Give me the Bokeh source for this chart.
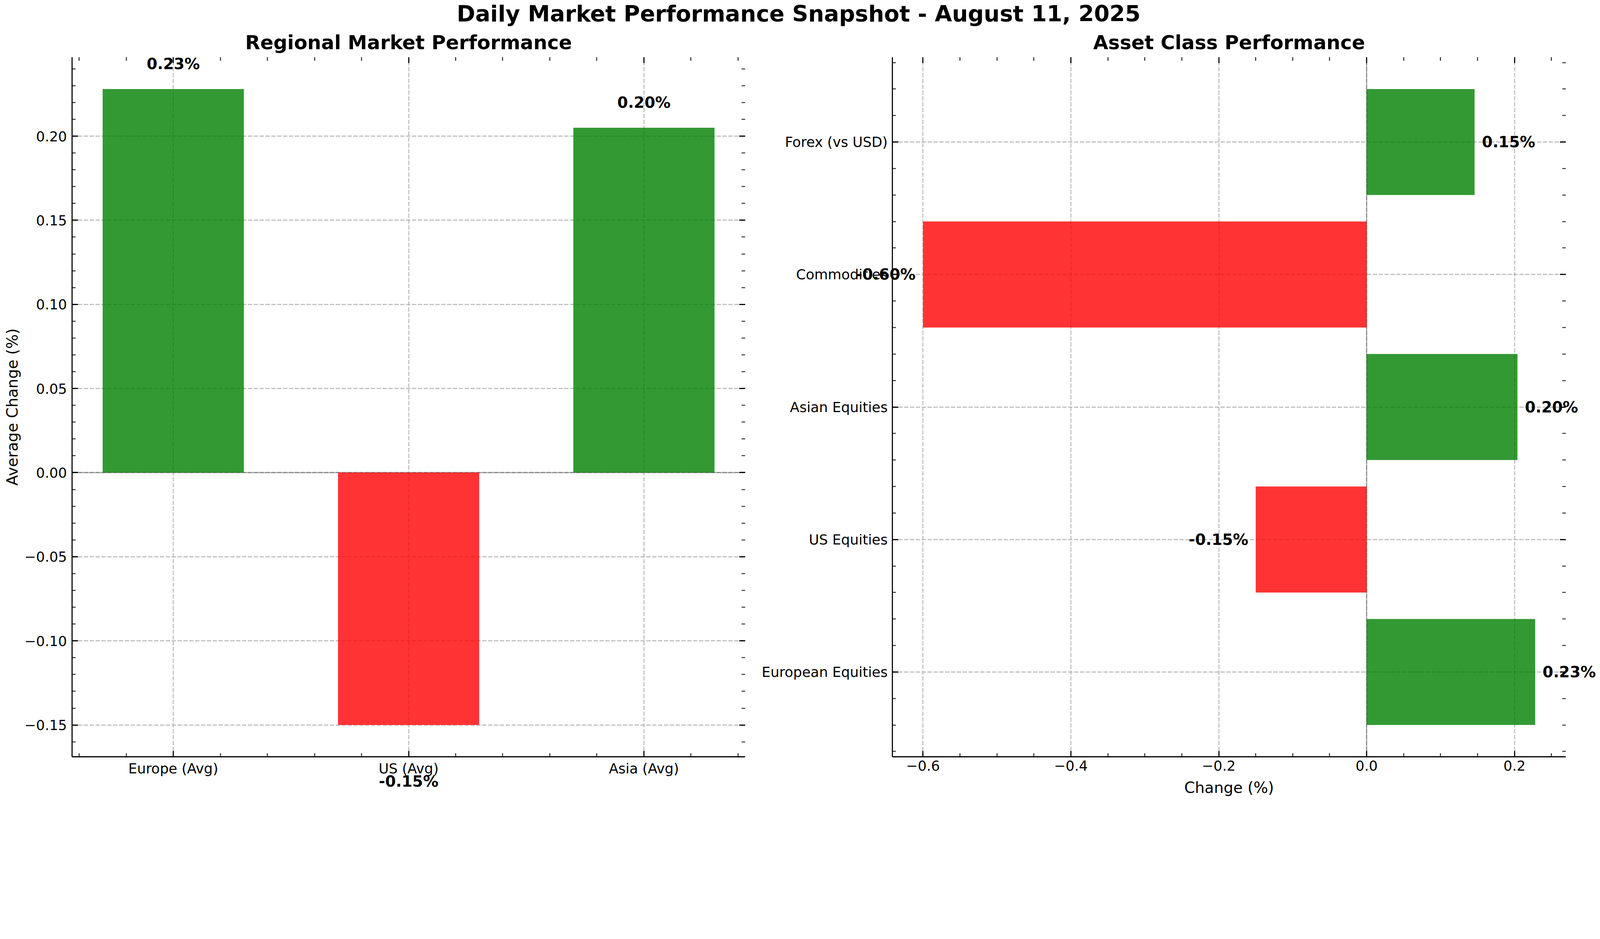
import numpy as np
from bokeh.plotting import figure
from bokeh.models import (Range1d, FixedTicker, LinearAxis, Label, Span,
                          ColumnDataSource, CustomJSTickFormatter)
from bokeh.core.properties import value
from bokeh.layouts import column, row
from bokeh.embed import file_html
from bokeh.resources import INLINE

# ---------------- data ----------------
suptitle = "Daily Market Performance Snapshot - August 11, 2025"
left_title = "Regional Market Performance"
right_title = "Asset Class Performance"

regions = ["Europe (Avg)", "US (Avg)", "Asia (Avg)"]
region_change = [0.228, -0.150, 0.205]

assets = ["European Equities", "US Equities", "Asian Equities",
          "Commodities", "Forex (vs USD)"]
asset_change = [0.228, -0.150, 0.204, -0.600, 0.146]

left_yticks = [-0.15, -0.10, -0.05, 0.00, 0.05, 0.10, 0.15, 0.20]
right_xticks = [-0.6, -0.4, -0.2, 0.0, 0.2]

left_ylabel = "Average Change (%)"
right_xlabel = "Change (%)"

# ---------------- style ----------------
FONT = "DejaVu Sans"
TICK_FS = "35.6px"
LABEL_FS = "39.1px"
VAL_FS = "39.3px"
SUB_FS = "49.8px"
GRID_COLOR = "#b0b0b0"
LW = 2.8


def bar_color(v):
    return "green" if v >= 0 else "red"


blank_fmt = CustomJSTickFormatter(code="return '';")


def style_axis(ax, line=True, labels=True, standoff=9):
    ax.major_tick_in = 15
    ax.major_tick_out = 0
    ax.minor_tick_in = 9
    ax.minor_tick_out = 0
    ax.major_tick_line_width = LW
    ax.minor_tick_line_width = 2.1
    ax.major_tick_line_color = "black"
    ax.minor_tick_line_color = "black"
    ax.axis_line_width = LW
    ax.axis_line_color = "black" if line else None
    ax.major_label_text_font = FONT
    if labels:
        ax.major_label_text_color = "black"
        ax.major_label_text_font_size = TICK_FS
        ax.major_label_standoff = standoff
    else:
        ax.formatter = blank_fmt
        ax.major_label_text_color = None
        ax.major_label_text_font_size = "1px"
        ax.major_label_standoff = 0


def style_grid(p):
    for g in (p.xgrid, p.ygrid):
        g.grid_line_color = GRID_COLOR
        g.grid_line_alpha = 0.8
        g.grid_line_width = LW
        g.grid_line_dash = "11 4"


def padded(lo, hi, frac=0.05):
    pad = (hi - lo) * frac
    return lo - pad, hi + pad


def subtitle(p, text, x0, x1, y1):
    p.text(x=[(x0 + x1) / 2], y=[y1], text=[text], y_offset=-37.5,
           level="overlay", text_font=value(FONT), text_font_size=value(SUB_FS),
           text_font_style=value("bold"), text_color="black",
           text_align=value("center"), text_baseline=value("middle"))


minus_fmt2 = CustomJSTickFormatter(code="return tick.toFixed(2).replace('-', '\u2212');")
minus_fmt1 = CustomJSTickFormatter(code="return tick.toFixed(1).replace('-', '\u2212');")

HH = 72        # header height (main title)
TOP = 74       # space above frames (holds the subtitles)
BOTTOM = 100
FH = 1791

# ---------------- left: regional ----------------
rx = list(range(len(regions)))
bar_w = 0.6
lx0, lx1 = padded(min(rx) - bar_w / 2, max(rx) + bar_w / 2)
ly0, ly1 = padded(min(0, min(region_change)), max(0, max(region_change)))

L1, F1, R1 = 184, 1723, 6
p1 = figure(frame_width=F1, frame_height=FH,
            x_range=Range1d(lx0, lx1), y_range=Range1d(ly0, ly1),
            output_backend="svg", toolbar_location=None, title=None,
            min_border_left=L1, min_border_right=R1,
            min_border_top=TOP, min_border_bottom=BOTTOM)
p1.outline_line_color = None
p1.background_fill_color = "white"
p1.border_fill_color = "white"

lxticker = FixedTicker(ticks=rx,
                       minor_ticks=[t for t in np.round(np.arange(-0.4, 2.41, 0.2), 2)
                                    if abs(t - round(t)) > 1e-6])
lyticker = FixedTicker(ticks=left_yticks,
                       minor_ticks=list(np.round(np.arange(-0.16, 0.2451, 0.01), 2)))

xa = p1.below[0]
xa.ticker = lxticker
xa.major_label_overrides = {i: r for i, r in enumerate(regions)}
style_axis(xa, standoff=9)
ya = p1.left[0]
ya.ticker = lyticker
ya.formatter = minus_fmt2
style_axis(ya, standoff=13)
ya.axis_label = left_ylabel
ya.axis_label_text_font = FONT
ya.axis_label_text_font_size = LABEL_FS
ya.axis_label_text_font_style = "normal"
ya.axis_label_text_color = "black"
ya.axis_label_standoff = 5

top1 = LinearAxis(ticker=lxticker)
style_axis(top1, line=False, labels=False)
p1.add_layout(top1, "above")
right1 = LinearAxis(ticker=lyticker)
style_axis(right1, line=False, labels=False)
p1.add_layout(right1, "right")

p1.xgrid.ticker = lxticker
p1.ygrid.ticker = lyticker
style_grid(p1)

p1.add_layout(Span(location=0, dimension="width", line_color="black",
                   line_alpha=0.3, line_width=LW, level="underlay"))

src1 = ColumnDataSource(dict(x=rx, top=region_change,
                             color=[bar_color(v) for v in region_change]))
p1.vbar(x="x", top="top", bottom=0, width=bar_w, source=src1,
        fill_color="color", fill_alpha=0.8, line_color=None)

lab1 = ColumnDataSource(dict(
    x=rx,
    y=[v + 0.015 if v >= 0 else v - 0.0335 for v in region_change],
    text=[f"{v:.2f}%" for v in region_change]))
p1.text(x="x", y="y", text="text", source=lab1, level="overlay",
        text_font=value(FONT), text_font_size=value(VAL_FS),
        text_font_style=value("bold"), text_color="black",
        text_align=value("center"), text_baseline=value("middle"))
subtitle(p1, left_title, lx0, lx1, ly1)

# ---------------- right: asset classes ----------------
ay = list(range(len(assets)))
bar_h = 0.8
rx0, rx1 = padded(min(0, min(asset_change)), max(0, max(asset_change)))
ry0, ry1 = padded(min(ay) - bar_h / 2, max(ay) + bar_h / 2)

L2, F2, R2 = 371, 1724, 79
p2 = figure(frame_width=F2, frame_height=FH,
            x_range=Range1d(rx0, rx1), y_range=Range1d(ry0, ry1),
            output_backend="svg", toolbar_location=None, title=None,
            min_border_left=L2, min_border_right=R2,
            min_border_top=TOP, min_border_bottom=BOTTOM)
p2.outline_line_color = None
p2.background_fill_color = "white"
p2.border_fill_color = "white"

rxticker = FixedTicker(ticks=right_xticks,
                       minor_ticks=[t for t in np.round(np.arange(-0.60, 0.2601, 0.05), 2)
                                    if min(abs(t - m) for m in right_xticks) > 1e-6])
ryticker = FixedTicker(ticks=ay,
                       minor_ticks=[t for t in np.round(np.arange(-0.6, 4.61, 0.2), 1)
                                    if abs(t - round(t)) > 1e-6])

xb = p2.below[0]
xb.ticker = rxticker
xb.formatter = minus_fmt1
style_axis(xb, standoff=9)
xb.axis_label = right_xlabel
xb.axis_label_text_font = FONT
xb.axis_label_text_font_size = LABEL_FS
xb.axis_label_text_font_style = "normal"
xb.axis_label_text_color = "black"
xb.axis_label_standoff = 18

yb = p2.left[0]
yb.ticker = ryticker
yb.major_label_overrides = {i: a for i, a in enumerate(assets)}
style_axis(yb, standoff=12)

top2 = LinearAxis(ticker=rxticker)
style_axis(top2, line=False, labels=False)
p2.add_layout(top2, "above")
right2 = LinearAxis(ticker=ryticker)
style_axis(right2, line=False, labels=False)
p2.add_layout(right2, "right")

p2.xgrid.ticker = rxticker
p2.ygrid.ticker = ryticker
style_grid(p2)

p2.add_layout(Span(location=0, dimension="height", line_color="black",
                   line_alpha=0.3, line_width=LW, level="underlay"))

src2 = ColumnDataSource(dict(y=ay, right=asset_change,
                             color=[bar_color(v) for v in asset_change]))
p2.hbar(y="y", right="right", left=0, height=bar_h, source=src2,
        fill_color="color", fill_alpha=0.8, line_color=None)

pos = [(i, v) for i, v in zip(ay, asset_change) if v >= 0]
neg = [(i, v) for i, v in zip(ay, asset_change) if v < 0]
for group, off, align in ((pos, 0.01, "left"), (neg, -0.01, "right")):
    src = ColumnDataSource(dict(x=[v + off for _, v in group],
                                y=[i for i, _ in group],
                                text=[f"{v:.2f}%" for _, v in group]))
    p2.text(x="x", y="y", text="text", source=src, level="overlay",
            text_font=value(FONT), text_font_size=value(VAL_FS),
            text_font_style=value("bold"), text_color="black",
            text_align=value(align), text_baseline=value("middle"))
subtitle(p2, right_title, rx0, rx1, ry1)

# ---------------- header with the main title ----------------
W1 = L1 + F1 + R1
W2 = L2 + F2 + R2
HW = W1 + W2
head = figure(width=HW, height=HH, x_range=Range1d(0, HW), y_range=Range1d(0, HH),
              x_axis_location=None, y_axis_location=None,
              output_backend="svg", toolbar_location=None, title=None,
              min_border=0)
head.outline_line_color = None
head.grid.visible = False
head.add_layout(Label(x=2044, y=HH - 34, text=suptitle, text_font=FONT,
                      text_font_size="57px", text_font_style="bold",
                      text_align="center", text_baseline="middle",
                      text_color="black"))

layout = column(head, row(p1, p2))
open("out.html", "w").write(file_html(layout, INLINE))
